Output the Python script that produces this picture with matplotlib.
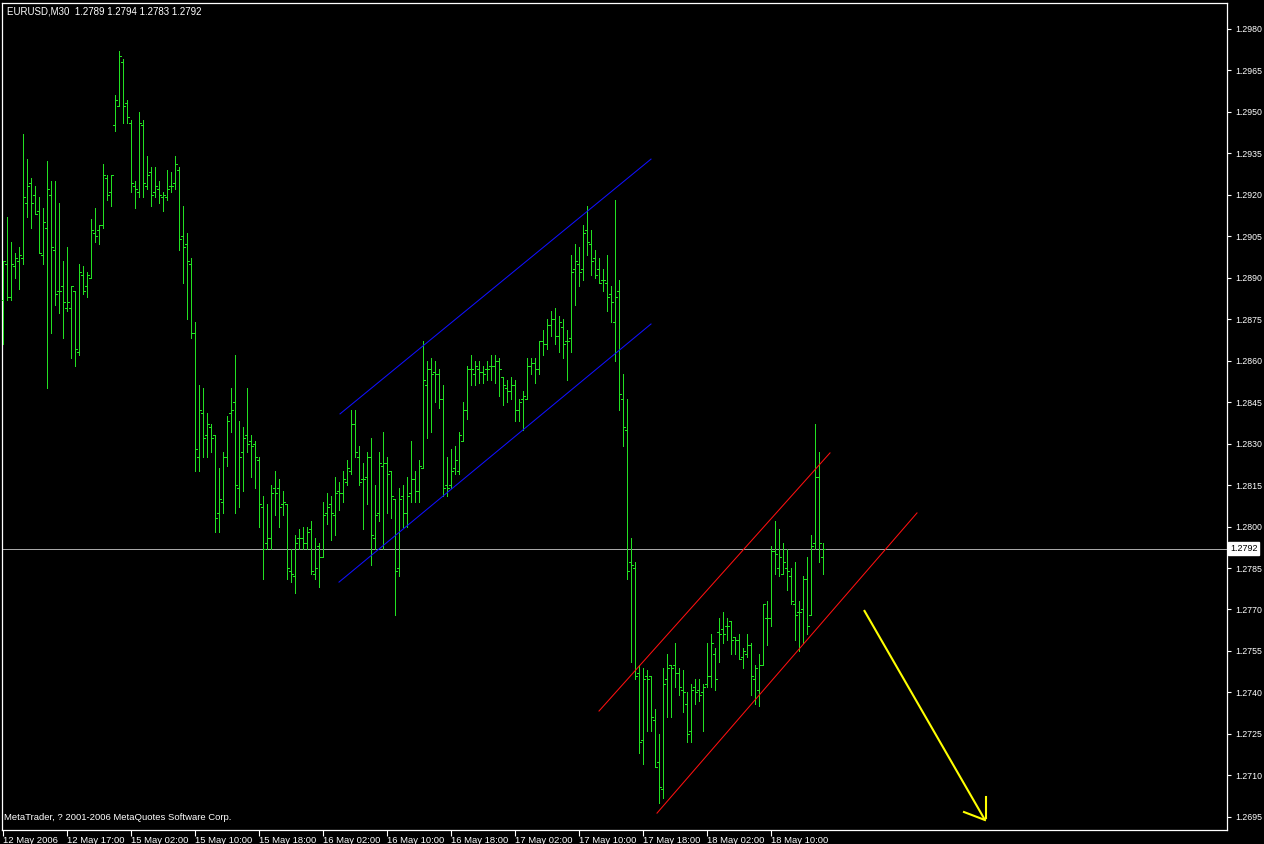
import numpy as np
import matplotlib
matplotlib.use("Agg")
import matplotlib.pyplot as plt
from matplotlib.collections import LineCollection
import matplotlib.transforms as mtransforms

plt.rcParams['font.family'] = ['Liberation Sans', 'DejaVu Sans']

symbol = "EURUSD,M30"

opens = [1.2882, 1.2895, 1.2883, 1.2894, 1.2896, 1.2897, 1.2917, 1.2924, 1.2920, 1.2914,
         1.2898, 1.2908, 1.2920, 1.2900, 1.2885, 1.2887, 1.2879, 1.2879, 1.2885, 1.2863,
         1.2891, 1.2887, 1.2890, 1.2906, 1.2907, 1.2909, 1.2926, 1.2921, 1.2945, 1.2952,
         1.2968, 1.2953, 1.2946, 1.2923, 1.2921, 1.2945, 1.2923, 1.2928, 1.2921, 1.2922,
         1.2919, 1.2919, 1.2923, 1.2924, 1.2929, 1.2905, 1.2902, 1.2895, 1.2870, 1.2825,
         1.2841, 1.2833, 1.2836, 1.2833, 1.2805, 1.2809, 1.2825, 1.2841, 1.2845, 1.2814,
         1.2827, 1.2833, 1.2831, 1.2830, 1.2824, 1.2807, 1.2794, 1.2796, 1.2814, 1.2814,
         1.2808, 1.2808, 1.2784, 1.2782, 1.2796, 1.2796, 1.2794, 1.2799, 1.2783, 1.2793,
         1.2789, 1.2805, 1.2808, 1.2804, 1.2813, 1.2812, 1.2816, 1.2820, 1.2837, 1.2825,
         1.2817, 1.2818, 1.2825, 1.2796, 1.2805, 1.2822, 1.2823, 1.2820, 1.2810, 1.2785,
         1.2811, 1.2805, 1.2812, 1.2817, 1.2813, 1.2821, 1.2851, 1.2857, 1.2856, 1.2855,
         1.2846, 1.2815, 1.2815, 1.2821, 1.2820, 1.2831, 1.2842, 1.2857, 1.2855, 1.2857,
         1.2856, 1.2857, 1.2858, 1.2858, 1.2860, 1.2854, 1.2850, 1.2849, 1.2851, 1.2842,
         1.2846, 1.2846, 1.2858, 1.2859, 1.2857, 1.2867, 1.2866, 1.2873, 1.2875, 1.2869,
         1.2872, 1.2867, 1.2868, 1.2893, 1.2895, 1.2893, 1.2907, 1.2902, 1.2897, 1.2893,
         1.2889, 1.2888, 1.2884, 1.2874, 1.2885, 1.2846, 1.2835, 1.2787, 1.2785, 1.2747,
         1.2723, 1.2746, 1.2746, 1.2730, 1.2715, 1.2705, 1.2745, 1.2750, 1.2750, 1.2747,
         1.2741, 1.2736, 1.2726, 1.2742, 1.2741, 1.2740, 1.2743, 1.2746, 1.2754, 1.2762,
         1.2763, 1.2764, 1.2766, 1.2760, 1.2759, 1.2753, 1.2754, 1.2757, 1.2745, 1.2741,
         1.2750, 1.2767, 1.2767, 1.2791, 1.2785, 1.2783, 1.2785, 1.2782, 1.2772, 1.2769,
         1.2770, 1.2781, 1.2768, 1.2794, 1.2818, 1.2789]

highs = [1.2896, 1.2912, 1.2903, 1.2899, 1.2901, 1.2942, 1.2933, 1.2926, 1.2923, 1.2919,
         1.2915, 1.2932, 1.2925, 1.2925, 1.2917, 1.2896, 1.2901, 1.2887, 1.2885, 1.2895,
         1.2894, 1.2892, 1.2911, 1.2915, 1.2909, 1.2931, 1.2927, 1.2927, 1.2956, 1.2972,
         1.2969, 1.2954, 1.2947, 1.2925, 1.2950, 1.2947, 1.2934, 1.2930, 1.2930, 1.2925,
         1.2921, 1.2929, 1.2928, 1.2934, 1.2930, 1.2916, 1.2906, 1.2897, 1.2874, 1.2851,
         1.2850, 1.2841, 1.2837, 1.2833, 1.2821, 1.2827, 1.2840, 1.2850, 1.2862, 1.2838,
         1.2836, 1.2850, 1.2833, 1.2831, 1.2825, 1.2811, 1.2808, 1.2815, 1.2820, 1.2817,
         1.2813, 1.2808, 1.2792, 1.2797, 1.2799, 1.2800, 1.2800, 1.2802, 1.2796, 1.2794,
         1.2809, 1.2812, 1.2811, 1.2818, 1.2816, 1.2820, 1.2824, 1.2842, 1.2842, 1.2829,
         1.2823, 1.2827, 1.2832, 1.2815, 1.2827, 1.2834, 1.2825, 1.2820, 1.2810, 1.2814,
         1.2815, 1.2818, 1.2831, 1.2820, 1.2824, 1.2867, 1.2860, 1.2861, 1.2860, 1.2857,
         1.2851, 1.2825, 1.2828, 1.2829, 1.2834, 1.2845, 1.2858, 1.2862, 1.2860, 1.2860,
         1.2858, 1.2860, 1.2862, 1.2862, 1.2861, 1.2854, 1.2853, 1.2854, 1.2853, 1.2846,
         1.2849, 1.2861, 1.2861, 1.2861, 1.2867, 1.2871, 1.2875, 1.2878, 1.2879, 1.2876,
         1.2875, 1.2871, 1.2898, 1.2902, 1.2901, 1.2909, 1.2916, 1.2907, 1.2900, 1.2897,
         1.2893, 1.2898, 1.2887, 1.2918, 1.2889, 1.2855, 1.2846, 1.2796, 1.2787, 1.2750,
         1.2749, 1.2748, 1.2746, 1.2734, 1.2725, 1.2749, 1.2754, 1.2750, 1.2758, 1.2749,
         1.2748, 1.2740, 1.2743, 1.2745, 1.2745, 1.2743, 1.2758, 1.2761, 1.2756, 1.2767,
         1.2769, 1.2767, 1.2766, 1.2760, 1.2761, 1.2756, 1.2761, 1.2758, 1.2750, 1.2754,
         1.2772, 1.2773, 1.2793, 1.2802, 1.2799, 1.2794, 1.2792, 1.2785, 1.2787, 1.2773,
         1.2782, 1.2789, 1.2797, 1.2837, 1.2827, 1.2794]

lows = [1.2866, 1.2882, 1.2882, 1.2890, 1.2886, 1.2895, 1.2912, 1.2908, 1.2913, 1.2899,
        1.2895, 1.2850, 1.2870, 1.2880, 1.2877, 1.2868, 1.2878, 1.2861, 1.2858, 1.2862,
        1.2884, 1.2883, 1.2890, 1.2903, 1.2902, 1.2908, 1.2918, 1.2916, 1.2943, 1.2952,
        1.2946, 1.2946, 1.2921, 1.2915, 1.2919, 1.2919, 1.2922, 1.2916, 1.2919, 1.2917,
        1.2914, 1.2918, 1.2921, 1.2922, 1.2900, 1.2888, 1.2875, 1.2868, 1.2820, 1.2820,
        1.2825, 1.2825, 1.2827, 1.2798, 1.2798, 1.2805, 1.2822, 1.2834, 1.2805, 1.2807,
        1.2813, 1.2827, 1.2818, 1.2814, 1.2800, 1.2781, 1.2792, 1.2792, 1.2804, 1.2800,
        1.2804, 1.2781, 1.2780, 1.2776, 1.2792, 1.2792, 1.2792, 1.2783, 1.2781, 1.2778,
        1.2789, 1.2801, 1.2795, 1.2797, 1.2806, 1.2809, 1.2815, 1.2819, 1.2825, 1.2815,
        1.2799, 1.2808, 1.2786, 1.2792, 1.2802, 1.2792, 1.2805, 1.2803, 1.2768, 1.2782,
        1.2800, 1.2800, 1.2809, 1.2809, 1.2809, 1.2821, 1.2832, 1.2834, 1.2845, 1.2843,
        1.2811, 1.2811, 1.2814, 1.2819, 1.2819, 1.2831, 1.2839, 1.2851, 1.2851, 1.2852,
        1.2852, 1.2853, 1.2853, 1.2852, 1.2847, 1.2844, 1.2845, 1.2846, 1.2838, 1.2838,
        1.2835, 1.2846, 1.2855, 1.2852, 1.2855, 1.2862, 1.2864, 1.2869, 1.2866, 1.2863,
        1.2861, 1.2853, 1.2863, 1.2880, 1.2887, 1.2889, 1.2898, 1.2891, 1.2890, 1.2888,
        1.2885, 1.2878, 1.2874, 1.2860, 1.2842, 1.2829, 1.2781, 1.2751, 1.2745, 1.2718,
        1.2714, 1.2726, 1.2726, 1.2713, 1.2700, 1.2702, 1.2731, 1.2731, 1.2742, 1.2739,
        1.2733, 1.2722, 1.2722, 1.2736, 1.2737, 1.2726, 1.2742, 1.2742, 1.2741, 1.2751,
        1.2758, 1.2759, 1.2754, 1.2754, 1.2752, 1.2749, 1.2753, 1.2739, 1.2736, 1.2735,
        1.2750, 1.2757, 1.2764, 1.2783, 1.2782, 1.2783, 1.2777, 1.2772, 1.2759, 1.2755,
        1.2758, 1.2761, 1.2768, 1.2792, 1.2787, 1.2783]

closes = [1.2896, 1.2883, 1.2895, 1.2897, 1.2898, 1.2919, 1.2923, 1.2917, 1.2913, 1.2899,
          1.2910, 1.2922, 1.2901, 1.2884, 1.2885, 1.2881, 1.2881, 1.2887, 1.2864, 1.2892,
          1.2885, 1.2891, 1.2907, 1.2905, 1.2909, 1.2927, 1.2920, 1.2927, 1.2954, 1.2970,
          1.2952, 1.2948, 1.2924, 1.2922, 1.2946, 1.2924, 1.2927, 1.2920, 1.2923, 1.2920,
          1.2920, 1.2922, 1.2923, 1.2931, 1.2904, 1.2901, 1.2896, 1.2870, 1.2828, 1.2842,
          1.2832, 1.2837, 1.2832, 1.2803, 1.2810, 1.2825, 1.2838, 1.2842, 1.2815, 1.2825,
          1.2832, 1.2830, 1.2829, 1.2825, 1.2808, 1.2792, 1.2796, 1.2812, 1.2812, 1.2807,
          1.2809, 1.2785, 1.2783, 1.2794, 1.2796, 1.2794, 1.2798, 1.2784, 1.2785, 1.2789,
          1.2804, 1.2807, 1.2805, 1.2812, 1.2812, 1.2817, 1.2821, 1.2837, 1.2827, 1.2816,
          1.2817, 1.2825, 1.2797, 1.2804, 1.2823, 1.2823, 1.2819, 1.2811, 1.2784, 1.2810,
          1.2805, 1.2811, 1.2817, 1.2813, 1.2822, 1.2853, 1.2857, 1.2855, 1.2855, 1.2846,
          1.2814, 1.2814, 1.2820, 1.2824, 1.2833, 1.2842, 1.2857, 1.2857, 1.2858, 1.2856,
          1.2855, 1.2857, 1.2858, 1.2860, 1.2857, 1.2851, 1.2849, 1.2851, 1.2842, 1.2845,
          1.2847, 1.2858, 1.2859, 1.2857, 1.2867, 1.2866, 1.2873, 1.2875, 1.2869, 1.2874,
          1.2866, 1.2867, 1.2892, 1.2896, 1.2892, 1.2906, 1.2903, 1.2896, 1.2891, 1.2888,
          1.2889, 1.2883, 1.2881, 1.2883, 1.2848, 1.2836, 1.2784, 1.2786, 1.2746, 1.2722,
          1.2745, 1.2745, 1.2731, 1.2713, 1.2706, 1.2743, 1.2749, 1.2749, 1.2747, 1.2742,
          1.2740, 1.2725, 1.2741, 1.2740, 1.2739, 1.2742, 1.2746, 1.2758, 1.2745, 1.2761,
          1.2761, 1.2764, 1.2759, 1.2759, 1.2752, 1.2755, 1.2757, 1.2746, 1.2749, 1.2750,
          1.2772, 1.2767, 1.2791, 1.2790, 1.2789, 1.2787, 1.2784, 1.2773, 1.2768, 1.2769,
          1.2781, 1.2764, 1.2793, 1.2818, 1.2794, 1.2792]

price_ticks = ["1.2980", "1.2965", "1.2950", "1.2935", "1.2920", "1.2905", "1.2890",
               "1.2875", "1.2860", "1.2845", "1.2830", "1.2815", "1.2800", "1.2785",
               "1.2770", "1.2755", "1.2740", "1.2725", "1.2710", "1.2695"]

time_labels = ["12 May 2006", "12 May 17:00", "15 May 02:00", "15 May 10:00",
               "15 May 18:00", "16 May 02:00", "16 May 10:00", "16 May 18:00",
               "17 May 02:00", "17 May 10:00", "17 May 18:00", "18 May 02:00",
               "18 May 10:00"]
bars_per_label = 16

# trend-line objects (anchor bar, anchor price)
blue_upper_bars = [84.25, 162.0]
blue_upper_prices = [1.28407, 1.29328]
blue_lower_bars = [84.0, 162.0]
blue_lower_prices = [1.27799, 1.28732]
red_upper_bars = [149.0, 206.75]
red_upper_prices = [1.27333, 1.28266]
red_lower_bars = [163.5, 228.5]
red_lower_prices = [1.26964, 1.28049]
arrow_bars = [215.25, 245.5]
arrow_prices = [1.27698, 1.26939]
arrow_head_bars = [240.25, 245.5, 245.75, 245.75]
arrow_head_prices = [1.26968, 1.26939, 1.27022, 1.26945]

footer = "MetaTrader, ? 2001-2006 MetaQuotes Software Corp."

W, H = 1264, 844
fig = plt.figure(figsize=(W / 100, H / 100), dpi=100, facecolor='black')
ax = fig.add_axes([2 / W, 14 / H, 1225 / W, 827 / H], facecolor='black')

o = np.array(opens); h = np.array(highs); l = np.array(lows); c = np.array(closes)
n = len(c)
x = np.arange(n)

bar_color = '#22e022'
thin = 0.72  # one pixel
hl = np.stack([np.column_stack([x, l]), np.column_stack([x, h])], axis=1)
op = np.stack([np.column_stack([x - 0.45, o]), np.column_stack([x, o])], axis=1)
cl = np.stack([np.column_stack([x, c]), np.column_stack([x + 0.45, c])], axis=1)
segs = np.concatenate([hl, op, cl])
ax.add_collection(LineCollection(segs, colors=bar_color, linewidths=thin,
                                 antialiaseds=False, zorder=3))

# current price line
cur = closes[-1]
ax.axhline(cur, color='#a8a8a8', lw=thin, antialiased=False, zorder=2)

# trend lines (thin, 1 px)
for bx, py, col in [(blue_upper_bars, blue_upper_prices, '#1010ff'),
                    (blue_lower_bars, blue_lower_prices, '#1010ff'),
                    (red_upper_bars, red_upper_prices, '#ff1010'),
                    (red_lower_bars, red_lower_prices, '#ff1010')]:
    ax.plot(bx, py, color=col, lw=0.75, antialiased=True, zorder=4)
ax.plot(arrow_bars, arrow_prices, color='#ffff00', lw=1.5, zorder=4, solid_capstyle='butt')
ax.plot(arrow_head_bars[:2], arrow_head_prices[:2], color='#ffff00', lw=1.5, zorder=4)
ax.plot(arrow_head_bars[2:], arrow_head_prices[2:], color='#ffff00', lw=1.5, zorder=4)

# scales: bar i centred at pixel 3 + 4 i, price 1.2980 at pixel 28.5
ax.set_xlim(-0.25, 306.0)
ax.set_ylim(1.26903, 1.298922)

ax.yaxis.tick_right()
ax.set_yticks([float(t) for t in price_ticks])
ax.set_yticklabels(price_ticks)
ax.tick_params(axis='y', colors='white', length=3, width=0.8, pad=3, labelsize=6.3,
               labelcolor='white')

xt = list(range(0, n, bars_per_label))[:len(time_labels)]
ax.set_xticks(xt)
ax.set_xticklabels(time_labels)
ax.tick_params(axis='x', colors='white', length=4, width=0.8, pad=0.5, labelsize=6.8,
               labelcolor='white')
for t in ax.get_xticklabels():
    t.set_horizontalalignment('left')

for s in ax.spines.values():
    s.set_color('white')
    s.set_linewidth(0.9)

# current price label
trans = mtransforms.blended_transform_factory(ax.transAxes, ax.transData)
ax.text(1.0025, cur, f"{cur:.4f}", transform=trans, ha='left', va='center',
        fontsize=6.5, color='black',
        bbox=dict(facecolor='white', edgecolor='white', boxstyle='square,pad=0.2'),
        zorder=6, clip_on=False)

# header and footer
header = f"{symbol}  {opens[-1]:.4f} {highs[-1]:.4f} {lows[-1]:.4f} {closes[-1]:.4f}"
fig.text(7 / W, 1 - 11 / H, header, color='white', fontsize=7.0, ha='left', va='center')
fig.text(4 / W, 1 - 818 / H, footer, color='white', fontsize=6.8, ha='left', va='center')

fig.savefig('out.png', dpi=100, facecolor='black')
